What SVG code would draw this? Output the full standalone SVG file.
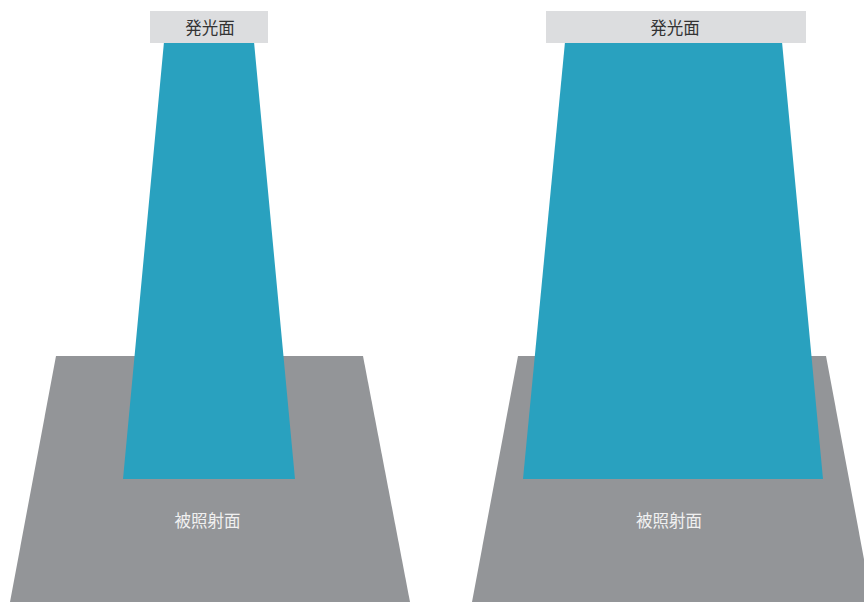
<svg xmlns="http://www.w3.org/2000/svg" width="864" height="602" viewBox="0 0 864 602">
<style>
.surf{fill:#939598}
.beam{fill:#29a1bf}
.src{fill:#dcdddf}
.t{font-family:"Noto Sans CJK JP","Noto Sans CJK SC",sans-serif;font-size:16.5px;text-anchor:middle}
.dark{fill:#333333}
.light{fill:#f0f0f0}
</style>
<rect width="864" height="602" fill="#ffffff"/>
<g id="left-surface">
<polygon class="surf" points="56,356 363,356 410,602 10,602"/>
</g>
<g id="left-beam">
<polygon class="beam" points="164,42 254,42 295,479 123,479"/>
</g>
<g id="left-source">
<rect class="src" x="150" y="11" width="118" height="32"/>
<text class="t dark" x="210" y="33.5">発光面</text>
</g>
<text class="t light" x="207.5" y="526.5">被照射面</text>
<g id="right-surface">
<polygon class="surf" points="518,356 826,356 872,602 472,602"/>
</g>
<g id="right-beam">
<polygon class="beam" points="565,42 782,42 823,479 523,479"/>
</g>
<g id="right-source">
<rect class="src" x="546" y="11" width="260" height="32"/>
<text class="t dark" x="675" y="33.5">発光面</text>
</g>
<text class="t light" x="669" y="526.5">被照射面</text>
<g id="connectors"/>
</svg>
